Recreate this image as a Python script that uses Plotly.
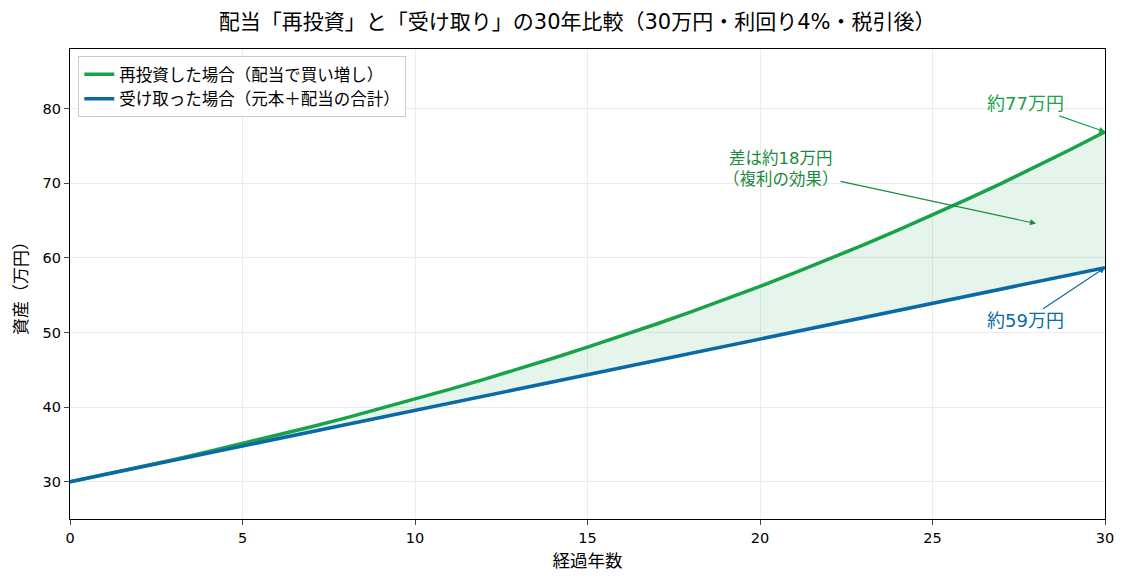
import plotly.graph_objects as go

years = list(range(0, 31))
reinvest = [30.00, 30.96, 31.94, 32.96, 34.01, 35.10, 36.22, 37.37, 38.56, 39.79,
            41.06, 42.37, 43.72, 45.11, 46.55, 48.03, 49.56, 51.14, 52.77, 54.46,
            56.19, 57.98, 59.83, 61.74, 63.71, 65.74, 67.83, 69.99, 72.23, 74.53, 76.90]
received = [30.00, 30.96, 31.91, 32.87, 33.82, 34.78, 35.74, 36.69, 37.65, 38.61,
            39.56, 40.52, 41.47, 42.43, 43.39, 44.34, 45.30, 46.26, 47.21, 48.17,
            49.12, 50.08, 51.04, 51.99, 52.95, 53.91, 54.86, 55.82, 56.77, 57.73, 58.69]

name_re = "再投資した場合（配当で買い増し）"
name_rc = "受け取った場合（元本＋配当の合計）"
title = "配当「再投資」と「受け取り」の30年比較（30万円・利回り4%・税引後）"
green = "#18a34a"
blue = "#0a6aa6"
font = "DejaVu Sans, Noto Sans CJK JP"

fig = go.Figure()
fig.add_trace(go.Scatter(x=years, y=received, mode="lines", line=dict(color=blue, width=0),
                         showlegend=False, hoverinfo="skip"))
fig.add_trace(go.Scatter(x=years, y=reinvest, mode="lines", line=dict(color=green, width=0),
                         fill="tonexty", fillcolor="rgba(24,163,74,0.11)", showlegend=False, hoverinfo="skip"))
fig.add_trace(go.Scatter(x=years, y=reinvest, mode="lines", line=dict(color=green, width=3.5),
                         name=name_re))
fig.add_trace(go.Scatter(x=years, y=received, mode="lines", line=dict(color=blue, width=3.5),
                         name=name_rc))

fig.add_annotation(x=30, y=reinvest[-1], text="約77万円", showarrow=True, ax=-80, ay=-28,
                   arrowhead=2, arrowsize=1, arrowwidth=1.2, arrowcolor=green,
                   font=dict(size=18, color=green, family=font))
fig.add_annotation(x=28, y=64.6, text="差は約18万円<br>（複利の効果）", showarrow=True, ax=-255, ay=-55,
                   arrowhead=2, arrowsize=1, arrowwidth=1.2, arrowcolor="#1a8a40",
                   font=dict(size=16.5, color="#1a8a40", family=font))
fig.add_annotation(x=30, y=received[-1], text="約59万円", showarrow=True, ax=-80, ay=53,
                   arrowhead=2, arrowsize=1, arrowwidth=1.2, arrowcolor=blue,
                   font=dict(size=18, color=blue, family=font))

fig.update_layout(
    width=1127, height=587,
    margin=dict(l=70, r=22, t=49, b=68),
    paper_bgcolor="white", plot_bgcolor="white",
    font=dict(family=font, size=14, color="black"),
    title=dict(text=title, x=0.49, xref="paper", xanchor="center", y=0.963, yanchor="middle",
               font=dict(size=21, family=font)),
    legend=dict(x=0.008, y=0.985, xanchor="left", yanchor="top", bgcolor="rgba(255,255,255,0.85)",
                bordercolor="#cccccc", borderwidth=1, font=dict(size=16.5), traceorder="normal"),
    xaxis=dict(range=[0, 30], tickvals=[0, 5, 10, 15, 20, 25, 30], showgrid=True,
               gridcolor="#ebebeb", showline=True, linecolor="black", linewidth=1.2, mirror=True,
               ticks="outside", ticklen=5, zeroline=False, tickfont=dict(size=14.5),
               title=dict(text="経過年数", font=dict(size=17.5), standoff=10)),
    yaxis=dict(range=[25, 88], tickvals=[30, 40, 50, 60, 70, 80], showgrid=True,
               gridcolor="#ebebeb", showline=True, linecolor="black", linewidth=1.2, mirror=True,
               ticks="outside", ticklen=5, zeroline=False, tickfont=dict(size=14.5),
               title=dict(text="資産（万円）", font=dict(size=17), standoff=10)),
)
fig.write_html("out.html")
